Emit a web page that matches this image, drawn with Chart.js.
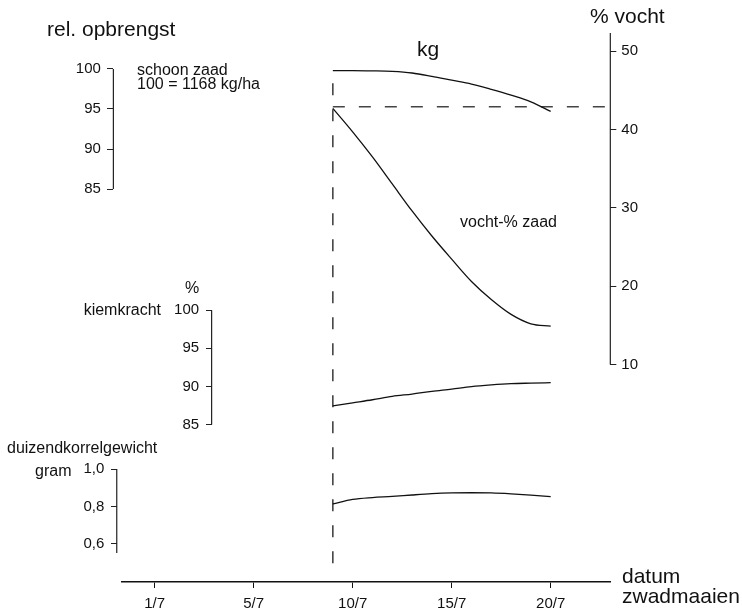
<!DOCTYPE html>
<html>
<head>
<meta charset="utf-8">
<script src="https://cdn.jsdelivr.net/npm/chart.js@4.4.0/dist/chart.umd.min.js"></script>
<style>
  body { margin: 0; background: #fff; }
</style>
</head>
<body>
<canvas id="chart1" width="742" height="610"></canvas>
<script>
// x = day of July (tick "1/7" sits at position 0 in the original figure)
const days = [9, 10, 11, 12, 13, 14, 15, 16, 17, 18, 19, 20];
const opbrengst = [99.8, 99.8, 99.77, 99.7, 99.5, 99.08, 98.6, 98.12, 97.46, 96.73, 95.9, 94.7];
const vocht = [42.7, 39.7, 36.5, 33.05, 29.6, 26.4, 23.45, 20.6, 18.3, 16.4, 15.2, 14.9];
const kiemkracht = [87.45, 87.85, 88.25, 88.7, 89.0, 89.35, 89.65, 89.98, 90.2, 90.36, 90.43, 90.49];
const korrelgewicht = [0.813, 0.837, 0.847, 0.853, 0.861, 0.868, 0.872, 0.873, 0.872, 0.867, 0.86, 0.852];

// reference lines
const zwadDag = 9;              // date of the vertical dashed line
const zwadLijnVocht = [45.9, -16.2];
const refVocht = 42.9;          // horizontal dashed line

// ticks
const xTickPos = [0, 5, 10, 15, 20];
const xTickLabels = ['1/7', '5/7', '10/7', '15/7', '20/7'];
const kgTicks = [85, 90, 95, 100];
const kiemTicks = [85, 90, 95, 100];
const gewTicks = [0.6, 0.8, 1.0];
const vochtTicks = [10, 20, 30, 40, 50];

// where the left axes stand (in x units) and how long their lines are
const axisAt = { yKg: -2.08, yGew: -1.91, yKiem: 2.88 };
const axisSpans = [
  { id: 'yKg', from: 85, to: 100 },
  { id: 'yKiem', from: 85, to: 100 },
  { id: 'yGew', from: 0.55, to: 1.0 },
  { id: 'yVocht', from: 10, to: 52.3 }
];

const notes = [
  ['rel. opbrengst', 47, 36, 21, 'left'],
  ['% vocht', 590, 23, 21, 'left'],
  ['kg', 417, 56, 21, 'left'],
  ['schoon zaad', 137, 75, 16, 'left'],
  ['100 = 1168 kg/ha', 137, 89, 16, 'left'],
  ['vocht-% zaad', 460, 227, 16, 'left'],
  ['%', 185, 293, 16, 'left'],
  ['kiemkracht', 161, 315, 16, 'right'],
  ['duizendkorrelgewicht', 7, 453, 16, 'left'],
  ['gram', 35, 476, 16, 'left'],
  ['datum', 622, 583, 21, 'left'],
  ['zwadmaaien', 622, 603, 21, 'left']
];

const FONT = '"Liberation Sans", Arial, sans-serif';
Chart.defaults.font.family = FONT;
Chart.defaults.color = '#111';

const pad = '   ';

function yAxis(ticks, min, max, pos, fmt) {
  return {
    type: 'linear',
    position: pos,
    min: min,
    max: max,
    border: { display: false },
    grid: { drawOnChartArea: false, drawTicks: true, tickLength: 6, color: '#222', lineWidth: 1 },
    ticks: { font: { size: 15 }, padding: 5, callback: fmt },
    afterBuildTicks: s => { s.ticks = ticks.map(v => ({ value: v })); }
  };
}

const partialAxes = {
  id: 'partialAxes',
  afterDraw(chart) {
    const ctx = chart.ctx;
    const xs = chart.scales.x;
    ctx.save();
    ctx.strokeStyle = '#222';
    ctx.lineWidth = 1.2;
    axisSpans.forEach(a => {
      const s = chart.scales[a.id];
      const px = a.id in axisAt ? xs.getPixelForValue(axisAt[a.id]) : s.left;
      ctx.beginPath();
      ctx.moveTo(px, s.getPixelForValue(a.from));
      ctx.lineTo(px, s.getPixelForValue(a.to));
      ctx.stroke();
    });
    ctx.restore();
  }
};

const textNotes = {
  id: 'textNotes',
  afterDraw(chart) {
    const ctx = chart.ctx;
    ctx.save();
    ctx.fillStyle = '#111';
    ctx.textBaseline = 'alphabetic';
    notes.forEach(n => {
      ctx.font = n[3] + 'px ' + FONT;
      ctx.textAlign = n[4];
      ctx.fillText(n[0], n[1], n[2]);
    });
    ctx.restore();
  }
};

const pts = ys => days.map((d, i) => ({ x: d, y: ys[i] }));
const curve = (data, axis) => ({
  data: pts(data), yAxisID: axis,
  borderColor: '#111', borderWidth: 1.3, pointRadius: 0,
  cubicInterpolationMode: 'monotone'
});
const dashed = (data) => ({
  data: data, yAxisID: 'yVocht',
  borderColor: '#444', borderWidth: 1.6, borderDash: [12, 14], pointRadius: 0
});

const ctx = document.getElementById('chart1');
const chart1 = new Chart(ctx, {
  type: 'line',
  data: {
    datasets: [
      curve(opbrengst, 'yKg'),
      curve(vocht, 'yVocht'),
      curve(kiemkracht, 'yKiem'),
      curve(korrelgewicht, 'yGew'),
      dashed([{ x: zwadDag, y: zwadLijnVocht[0] }, { x: zwadDag, y: zwadLijnVocht[1] }]),
      dashed([{ x: zwadDag, y: refVocht }, { x: 23.0, y: refVocht }])
    ]
  },
  options: {
    responsive: false,
    animation: false,
    layout: { padding: { left: 122, top: 33, right: 99, bottom: -9 } },
    plugins: { legend: { display: false }, tooltip: { enabled: false } },
    scales: {
      x: {
        type: 'linear',
        position: 'bottom',
        min: -1.645,
        max: 23.01,
        border: { display: true, color: '#111', width: 1.6 },
        grid: { drawOnChartArea: false, drawTicks: true, tickLength: 6, color: '#111' },
        ticks: { font: { size: 15 }, padding: 6.5, callback: (v, i) => xTickLabels[i] },
        afterBuildTicks: s => { s.ticks = xTickPos.map(v => ({ value: v })); }
      },
      yKg: yAxis(kgTicks, 35.875, 104.5, { x: axisAt.yKg }, v => v + pad),
      yKiem: yAxis(kiemTicks, 64.33, 136.38, { x: axisAt.yKiem }, v => v + pad),
      yGew: yAxis(gewTicks, 0.395, 3.335, { x: axisAt.yGew }, v => v.toFixed(1).replace('.', ',') + pad),
      yVocht: yAxis(vochtTicks, -17.75, 52.31, 'right', v => v)
    }
  },
  plugins: [partialAxes, textNotes]
});
</script>
</body>
</html>
